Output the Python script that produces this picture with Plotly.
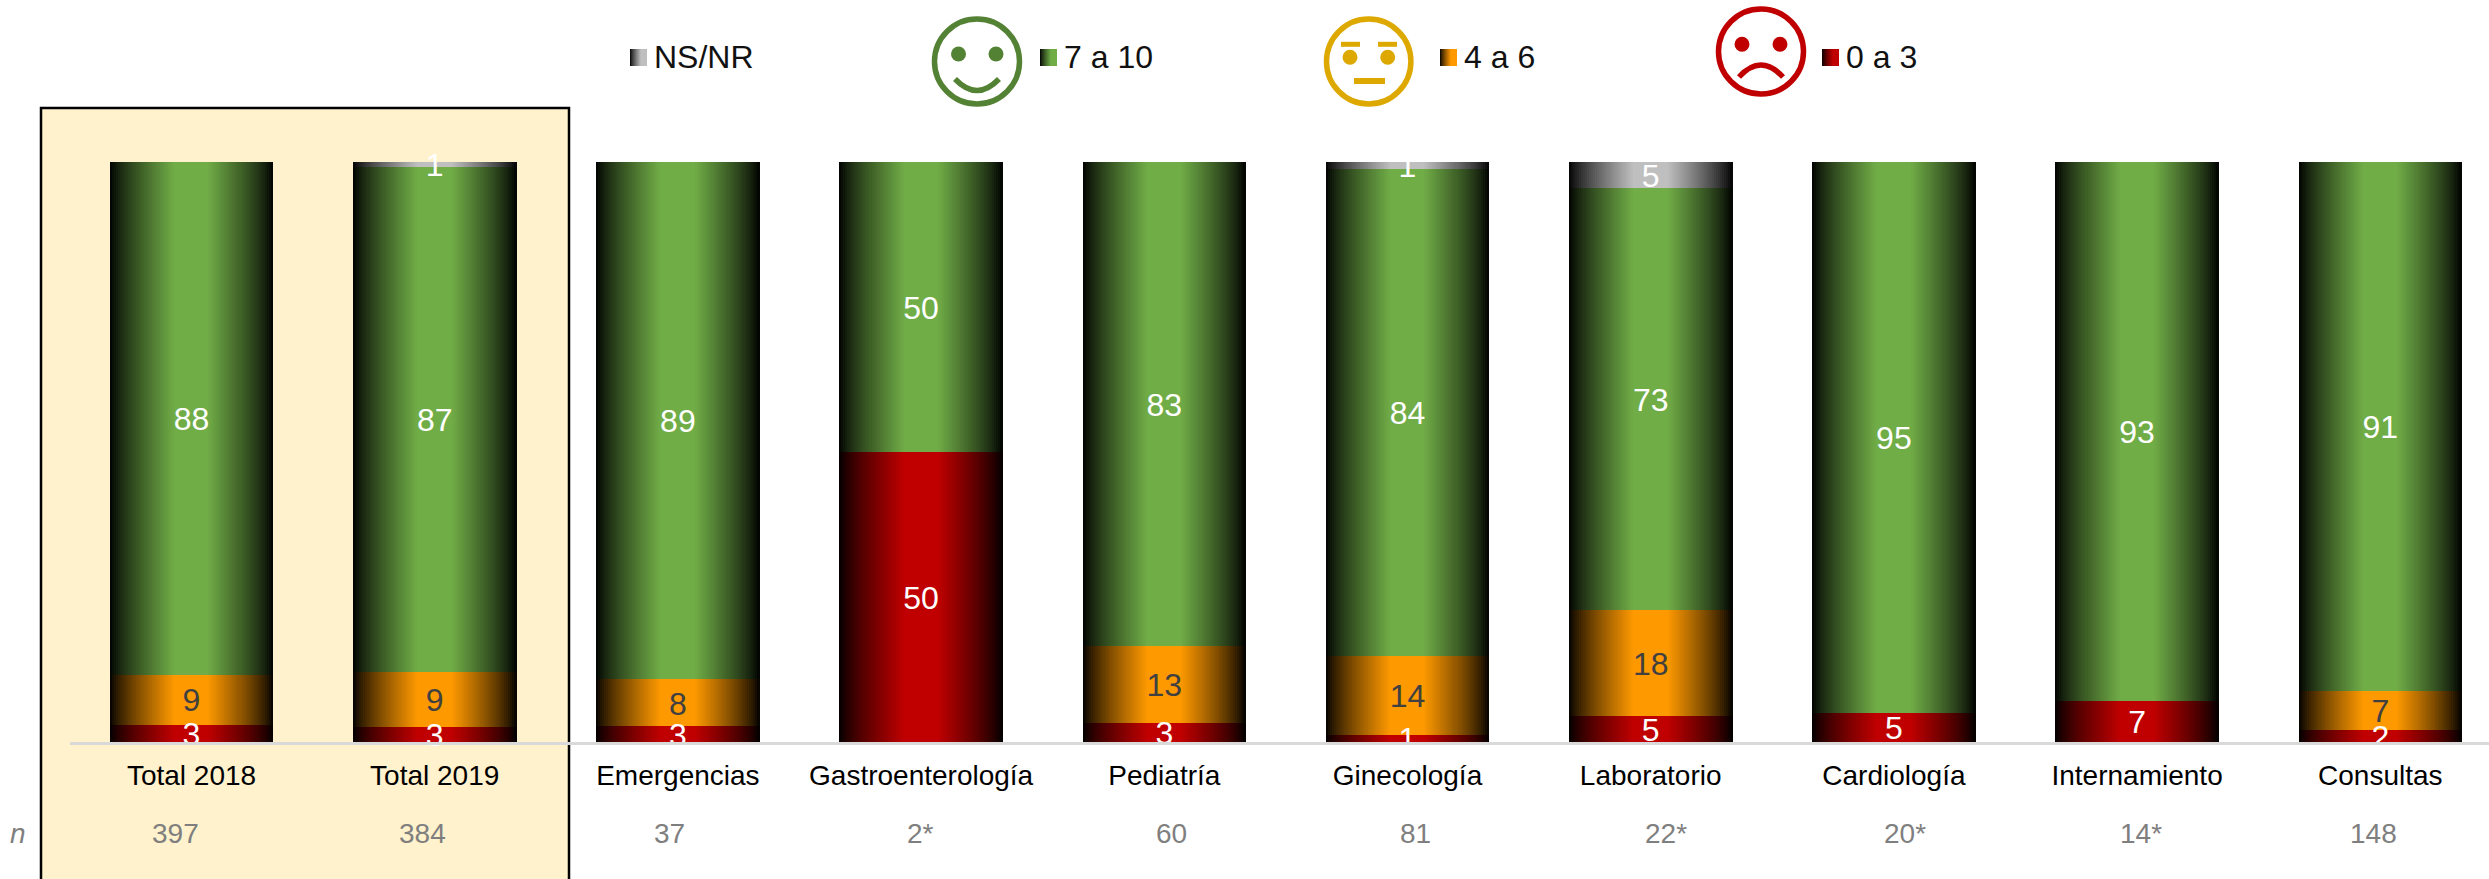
import numpy as np
import plotly.graph_objects as go

# ---- data -------------------------------------------------------------
categories = ["Total 2018", "Total 2019", "Emergencias", "Gastroenterología", "Pediatría",
              "Ginecología", "Laboratorio", "Cardiología", "Internamiento", "Consultas"]
red = [3.0, 2.6, 2.7, 50.0, 3.3, 1.2, 4.55, 5.0, 7.1, 2.0]
orange = [8.6, 9.4, 8.1, 0, 13.3, 13.6, 18.2, 0, 0, 6.8]
green = [88.4, 87.2, 89.2, 50.0, 83.4, 84.0, 72.7, 95.0, 92.9, 91.2]
nsnr = [0, 0.8, 0, 0, 0, 1.2, 4.55, 0, 0, 0]
n_values = ["397", "384", "37", "2*", "60", "81", "22*", "20*", "14*", "148"]

# ---- layout constants --------------------------------------------------
W, H = 2489, 879
FONT = "Liberation Sans"
FS = 28
FS_VALUE = 32
X0_PX, PITCH = 191.5, 243.2
AXIS_LEFT_PX = 70
Y0_PX, Y100_PX = 742, 162
BAR_W = 163 / PITCH
N_STRIPS = 81
LABEL_DY = 0.65
n_px = [175, 422, 669.5, 920, 1171, 1415, 1666, 1905, 2141, 2373]
NY_PX = 833

series = [
    ("0 a 3", red, (192, 0, 0), "white"),
    ("4 a 6", orange, (255, 153, 0), "#404040"),
    ("7 a 10", green, (112, 173, 71), "white"),
    ("NS/NR", nsnr, (191, 191, 191), "white"),
]


def px(x):
    return x / W


def py(y):
    return 1 - y / H


def shade(base, u):
    """colour across a bar: u=0 left edge, u=1 right edge"""
    t = 1 - abs(2 * u - 1)
    f = max(min(1.0, (t / 0.8) ** 0.8), 0.03)
    return "rgb({},{},{})".format(*[int(round(c * f)) for c in base])


fig = go.Figure()
offsets = (np.arange(N_STRIPS) + 0.5) / N_STRIPS
xs = np.concatenate([i + (offsets - 0.5) * BAR_W for i in range(len(categories))])

for name, vals, base, _ in series:
    ys = np.repeat(vals, N_STRIPS)
    cols = [shade(base, u) for u in offsets] * len(categories)
    fig.add_trace(go.Bar(x=xs, y=ys, width=1.3 * BAR_W / N_STRIPS, name=name,
                         marker=dict(color=cols, line=dict(width=0)),
                         hoverinfo="skip", showlegend=False))

cum = np.zeros(len(categories))
for name, vals, base, tcol in series:
    v = np.array(vals, dtype=float)
    label_y = np.maximum(cum + v / 2 - LABEL_DY, 0.02)
    fig.add_trace(go.Scatter(x=list(range(len(categories))), y=label_y, mode="text",
                             text=[str(int(x + 0.5)) if x > 0 else "" for x in v],
                             textposition="middle center",
                             textfont=dict(family=FONT, size=FS_VALUE, color=tcol),
                             cliponaxis=False, hoverinfo="skip", showlegend=False))
    cum = cum + v

# ---- highlight panel ---------------------------------------------------
shapes = [dict(type="rect", xref="paper", yref="paper", layer="below",
               x0=px(41), x1=px(569), y0=py(885), y1=py(108),
               fillcolor="#FFF2CC", line=dict(color="black", width=2.5))]

# ---- legend ------------------------------------------------------------
legend_items = [("NS/NR", (191, 191, 191), 630, 652),
                ("7 a 10", (112, 173, 71), 1040, 1062),
                ("4 a 6", (255, 153, 0), 1440, 1462),
                ("0 a 3", (192, 0, 0), 1822, 1844)]
annotations = []
for label, base, sx, tx in legend_items:
    for k in range(17):
        u = (k + 0.5) / 17
        shapes.append(dict(type="rect", xref="paper", yref="paper", layer="above",
                           x0=px(sx + k), x1=px(sx + k + 1), y0=py(66), y1=py(49),
                           fillcolor=shade(base, u * 0.62), line=dict(width=0)))
    annotations.append(dict(text=label, xref="paper", yref="paper", x=px(tx), y=py(57),
                            xanchor="left", yanchor="middle", showarrow=False,
                            font=dict(family=FONT, size=FS_VALUE, color="#111111")))


# ---- faces -------------------------------------------------------------
def ellipse(cx, cy, rx, ry, color, fill=None, lw=0):
    return dict(type="circle", xref="paper", yref="paper", layer="above",
                x0=px(cx - rx), x1=px(cx + rx), y0=py(cy + ry), y1=py(cy - ry),
                fillcolor=fill if fill else "rgba(0,0,0,0)",
                line=dict(color=color, width=lw))


def stroke(points, color, lw):
    """quadratic path through start, control, end or a straight line"""
    if len(points) == 3:
        (a, b), (c, d), (e, f) = points
        p = f"M {px(a)} {py(b)} Q {px(c)} {py(d)} {px(e)} {py(f)}"
    else:
        (a, b), (e, f) = points
        p = f"M {px(a)} {py(b)} L {px(e)} {py(f)}"
    return dict(type="path", xref="paper", yref="paper", layer="above", path=p,
                line=dict(color=color, width=lw))


G, Y, R = "#548235", "#DDA900", "#C00000"
shapes += [ellipse(977, 61.5, 42.5, 42.5, G, lw=5.5),
           ellipse(958.5, 54, 7.5, 7.5, G, fill=G, lw=0),
           ellipse(996, 54, 7.5, 7.5, G, fill=G, lw=0),
           stroke([(955, 79), (977, 102), (999, 79)], G, 5.5)]
shapes += [ellipse(1368.7, 61.5, 42.2, 42.5, Y, lw=5.5),
           ellipse(1350, 57.3, 7.5, 7.5, Y, fill=Y, lw=0),
           ellipse(1387.7, 57.3, 7.5, 7.5, Y, fill=Y, lw=0),
           stroke([(1341, 44.3), (1360, 44.3)], Y, 5),
           stroke([(1378, 44.3), (1397, 44.3)], Y, 5),
           stroke([(1354, 81), (1385, 81)], Y, 6)]
shapes += [ellipse(1761, 51.5, 42.5, 42.5, R, lw=5.5),
           ellipse(1742, 44.3, 7.5, 7.5, R, fill=R, lw=0),
           ellipse(1780, 44.3, 7.5, 7.5, R, fill=R, lw=0),
           stroke([(1739, 77), (1761, 53), (1783, 77)], R, 5.5)]

# ---- n row -------------------------------------------------------------
annotations.append(dict(text="<i>n</i>", xref="paper", yref="paper", x=px(18), y=py(NY_PX),
                        xanchor="center", yanchor="middle", showarrow=False,
                        font=dict(family=FONT, size=28, color="#7F7F7F")))
for nv, nx in zip(n_values, n_px):
    annotations.append(dict(text=nv, xref="paper", yref="paper", x=px(nx), y=py(NY_PX),
                            xanchor="center", yanchor="middle", showarrow=False,
                            font=dict(family=FONT, size=28, color="#7F7F7F")))

fig.update_layout(
    width=W, height=H, autosize=False,
    margin=dict(l=0, r=0, t=0, b=0),
    paper_bgcolor="white", plot_bgcolor="rgba(0,0,0,0)",
    barmode="stack", bargap=0, showlegend=False,
    shapes=shapes, annotations=annotations,
    xaxis=dict(domain=[AXIS_LEFT_PX / W, 1],
               range=[(AXIS_LEFT_PX - X0_PX) / PITCH, (W - X0_PX) / PITCH],
               tickmode="array", tickvals=list(range(len(categories))), ticktext=categories,
               tickfont=dict(family=FONT, size=FS, color="black"),
               ticks="outside", ticklen=6, tickcolor="rgba(0,0,0,0)",
               showgrid=False, zeroline=False, showline=True, linecolor="#D9D9D9", linewidth=3),
    yaxis=dict(domain=[1 - Y0_PX / H, 1 - Y100_PX / H], range=[0, 100], visible=False),
)

fig.write_html("out.html", config=dict(displayModeBar=False),
               post_script="document.body.style.margin='0';document.body.style.overflow='hidden';")
